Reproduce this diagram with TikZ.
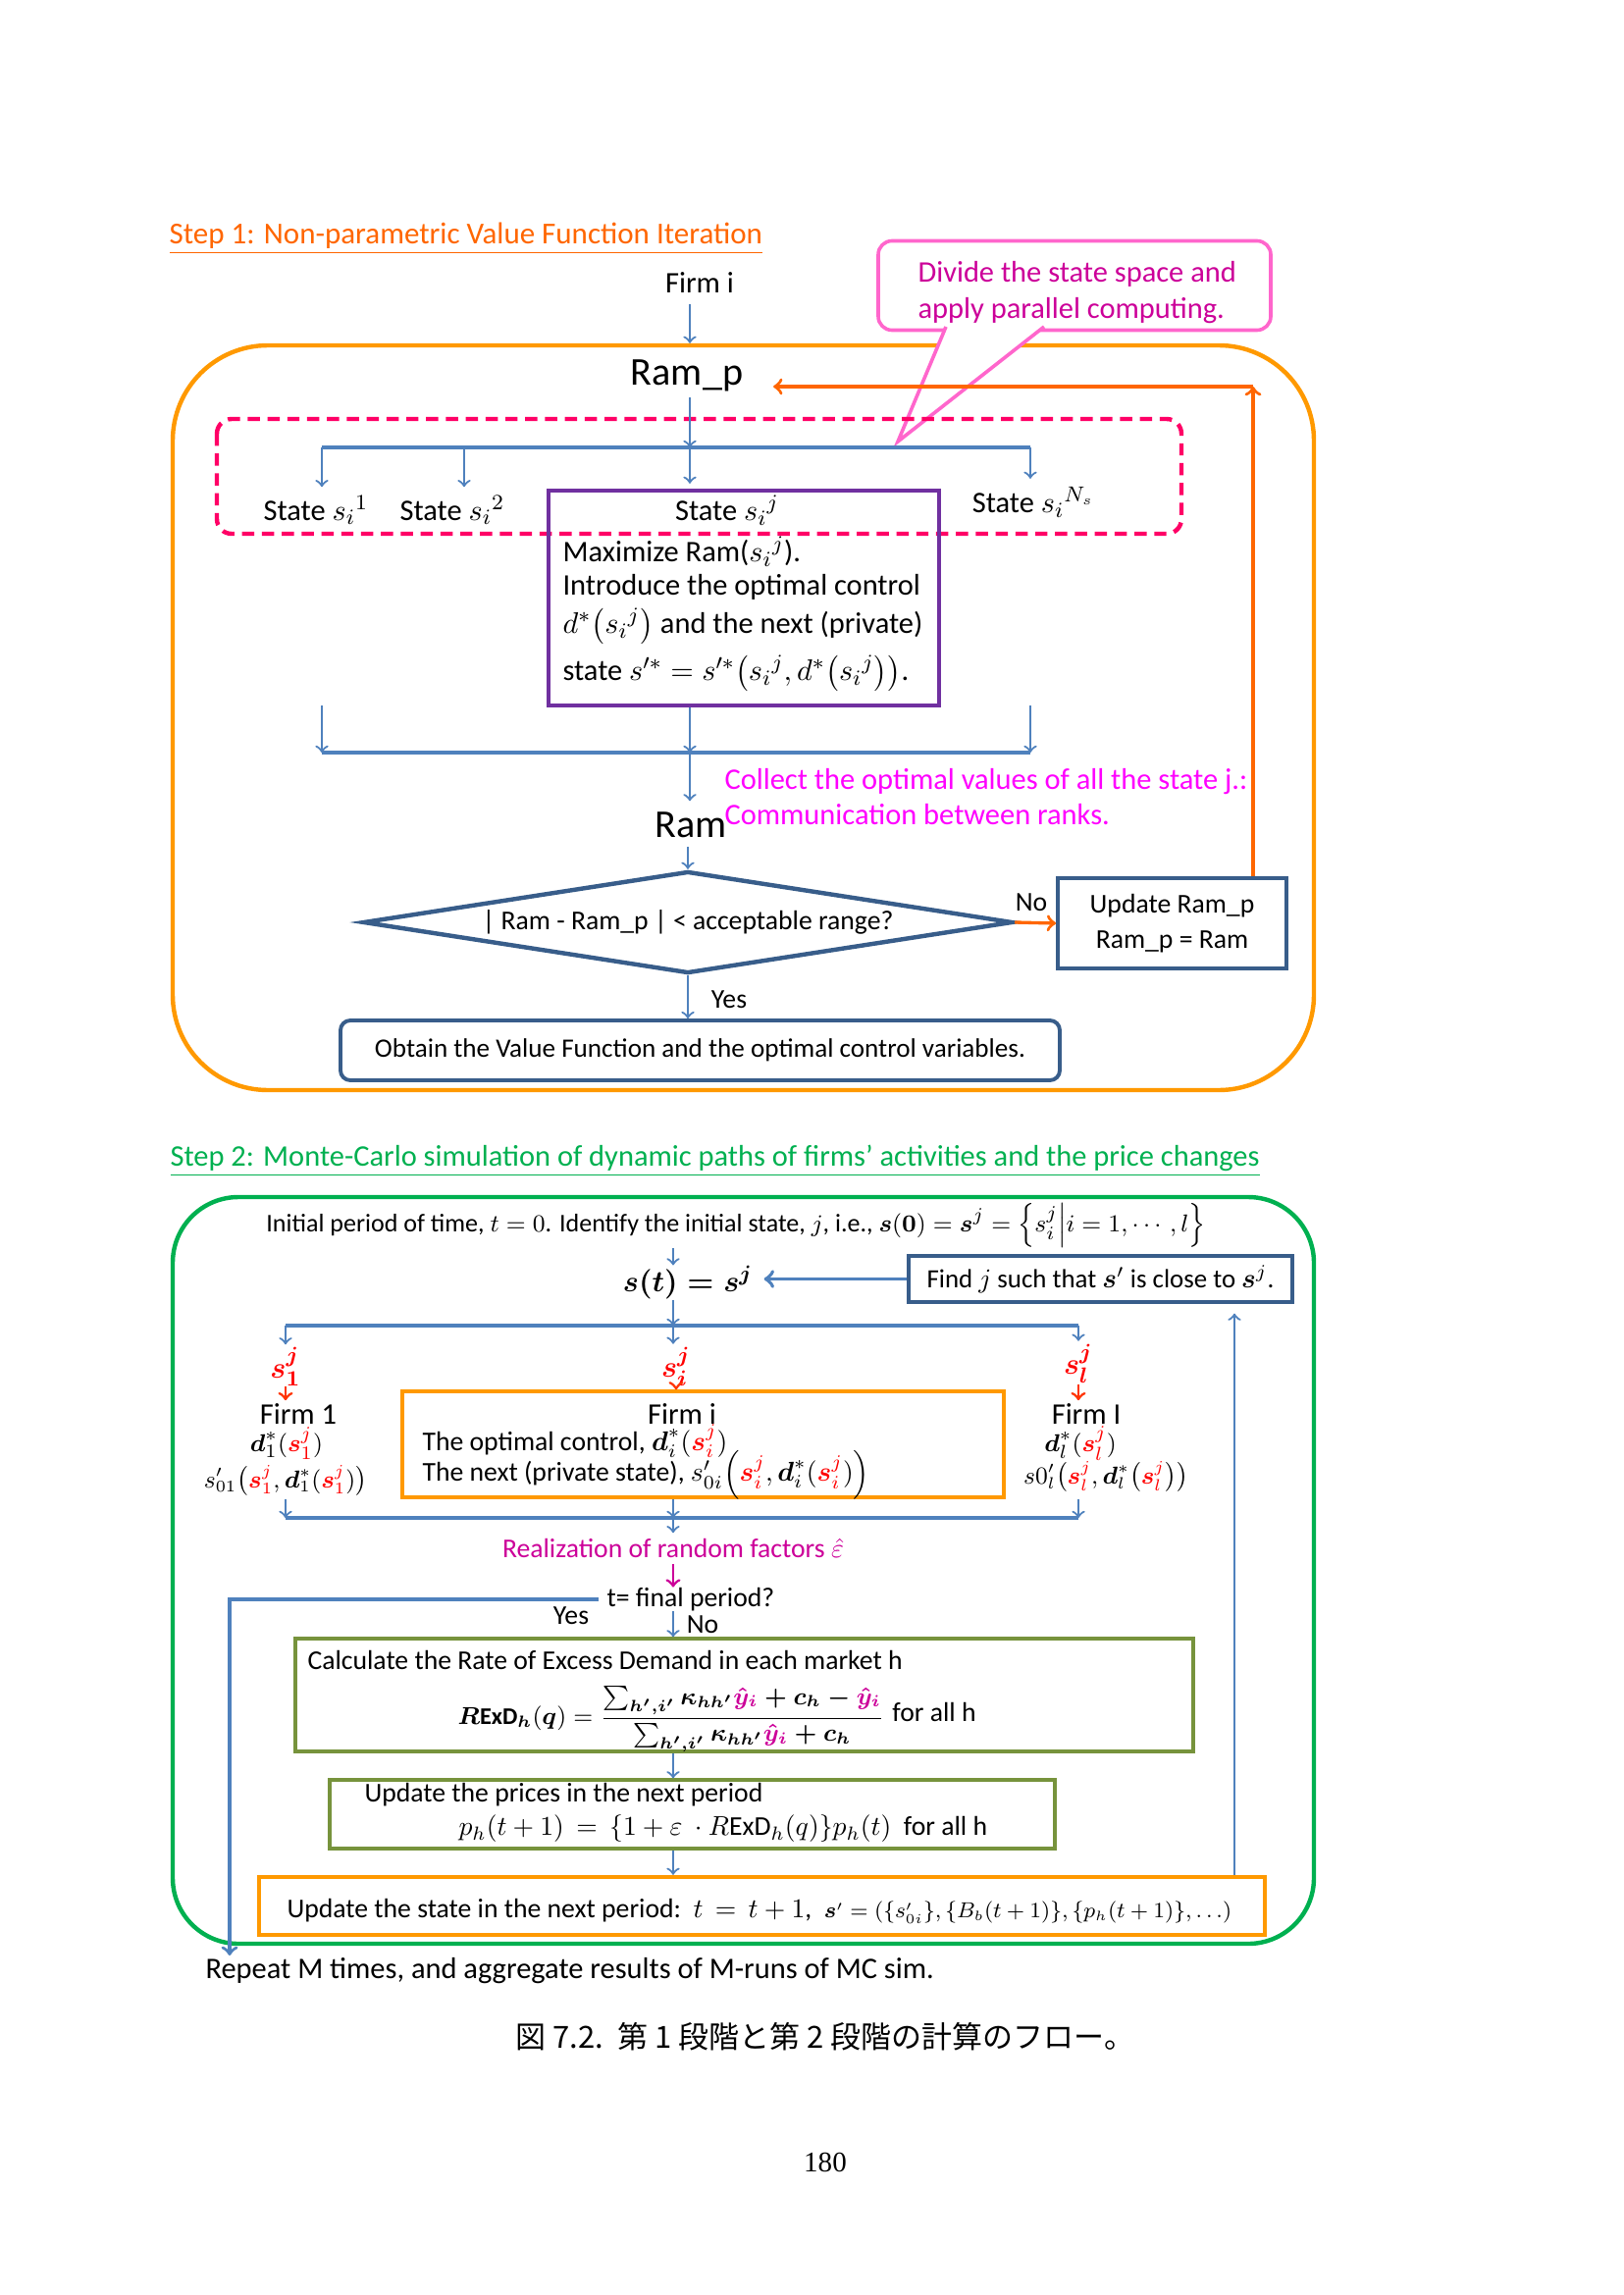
\documentclass[tikz,border=0pt]{standalone}
\usepackage{amsmath}
\usepackage{fontspec}
\setmainfont{Carlito}
\newfontfamily\jpfont{Noto Sans CJK JP}
\newfontfamily\pagefont{Liberation Serif}
\usetikzlibrary{shapes.geometric}
\newdimen\px \px=0.12697mm
\definecolor{ttlorange}{HTML}{FF6600} \definecolor{amber}{HTML}{FF9900} \definecolor{callpink}{HTML}{FF66CC}
\definecolor{calltext}{HTML}{CC0099} \definecolor{dashpink}{HTML}{FF0066} \definecolor{blu}{HTML}{4F81BD}
\definecolor{darkblu}{HTML}{385D8A} \definecolor{purp}{HTML}{7030A0} \definecolor{collmag}{HTML}{FF00FF}
\definecolor{grn}{HTML}{00B050} \definecolor{olive}{HTML}{77933C} \definecolor{arrred}{HTML}{FF3300}

\begin{document}
\begin{tikzpicture}[x=0.12697mm,y=-0.12697mm,every node/.style={inner sep=0pt},
 fs/.style={font=\fontsize{#1}{13.2}\selectfont}, arr/.style={->,blu,line width=0.8pt}, bus/.style={blu,line width=1.3pt},
 redarrow/.style={->,arrred,line width=1pt}, dbox/.style={draw=darkblu,line width=1.4pt}, obox/.style={draw=olive,line width=1.2pt}]
\useasboundingbox (0,0) rectangle (1654,2339);

\node[fs=11.2,text=ttlorange,anchor=west] (title1) at (172,243) {\underline{Step 1: Non-parametric Value Function Iteration}};
\node[fs=11] (firmi) at (713,288) {Firm i};
\node[draw=amber,line width=1.6pt,rounded corners=97\px,minimum width=1163\px,minimum height=759\px] (stepone) at (757.5,731.5) {};
\coordinate (ba) at (328,456); \coordinate (bb) at (473,456); \coordinate (bc) at (703,456); \coordinate (bd) at (1050,456);
\draw[arr,shorten <=4pt] (firmi.south -| bc) -- (stepone.north -| bc);
\node[draw=callpink,fill=white,line width=1.3pt,rounded corners=14\px,minimum width=400\px,minimum height=91\px] (callout) at (1095,291) {};
\node[fs=11,text=calltext,anchor=west,align=left] (calltxt) at (935,298) {Divide the state space and\\apply parallel computing.};
\coordinate (ptip) at (915,450); \coordinate (fb) at (1277,394);
\draw[callpink,line width=1.3pt,fill=white] (964,333) -- (ptip) -- (1064,333);
\node[fs=14.5] (ramp) at (700,383) {Ram\_p};
\draw[dashpink,line width=1.6pt,dash pattern=on 4.5pt off 2.8pt,rounded corners=15\px] (221,427) rectangle (1204,544);
\draw[arr,shorten <=2pt] (ramp.south -| bc) -- (bc); \draw[bus] (ba) -- (bd);
\node[fs=11] (st1) at (322,520) {State $s_i{}^1$}; \node[fs=11] (st2) at (461,520) {State $s_i{}^2$}; \node[fs=11] (stN) at (1053,512) {State $s_i{}^{N_s}$};
\foreach \b/\s in {ba/st1,bb/st2,bd/stN} { \draw[arr,shorten >=3pt] (\b) -- (\b |- \s.north); };
\node[draw=purp,line width=1.2pt,minimum width=398\px,minimum height=219\px] (purp) at (758,609.5) {};
\draw[arr,shorten >=2pt] (bc) -- (bc |- purp.north);
\node[fs=11] (stj) at (741,520) {State $s_i{}^j$};
\node[fs=11,anchor=west] (maxl) at (573,562) {Maximize Ram($s_i{}^j$).};
\node[fs=11,anchor=west] (introl) at (573,598) {Introduce the optimal control};
\node[fs=11,anchor=west] (dstar) at (573,638) {$d^*\!\left(s_i{}^j\right)$ and the next (private)};
\node[fs=11,anchor=west] (nxt) at (573,686) {state $s'^*=s'^*\!\left(s_i{}^j,d^*\!\left(s_i{}^j\right)\right)$.};
\coordinate (ua) at (328,719); \coordinate (ud) at (1050,719); \coordinate (la) at (328,767); \coordinate (lc) at (703,767); \coordinate (ld) at (1050,767);
\draw[arr] (ua) -- (la); \draw[arr] (ud) -- (ld); \draw[arr] (purp.south -| lc) -- (lc); \draw[bus] (la) -- (ld);
\node[fs=11,text=collmag,anchor=west,align=left] (collect) at (738,812) {Collect the optimal values of all the state j.:\\Communication between ranks.};
\node[fs=14.5] (ram) at (704,841) {Ram};
\draw[arr,shorten >=4pt] (lc) -- (lc |- ram.north);
\node[diamond,draw=darkblu,line width=1.6pt,minimum width=662\px,minimum height=104\px] (dia) at (701,940) {};
\node[fs=10] (diatxt) at (dia) {| Ram - Ram\_p | < acceptable range?};
\draw[arr,shorten <=3pt] (ram.south -| dia.north) -- (dia.north);
\node[dbox,fs=10,align=center,minimum width=233\px,minimum height=92\px] (upd) at (1194.5,941) {Update Ram\_p\\Ram\_p = Ram};
\node[fs=10] (no) at (1051,920) {No};
\draw[->,ttlorange,line width=1.2pt] (dia.east) -- (upd.west);
\draw[->,ttlorange,line width=1.2pt] (upd.north -| fb) -- (fb); \draw[->,ttlorange,line width=1.2pt,shorten >=11pt] (fb) -- (ramp.east |- fb);
\node[fs=10] (yes1) at (743,1019) {Yes};
\node[dbox,fs=9.8,rounded corners=10\px,minimum width=733\px,minimum height=61\px] (obt) at (713.5,1070.5) {Obtain the Value Function and the optimal control variables.};
\draw[arr] (dia.south) -- (dia.south |- obt.north);

\node[fs=11,text=grn,anchor=west] (title2) at (173,1183) {\underline{Step 2: Monte-Carlo simulation of dynamic paths of firms’ activities and the price changes}};
\node[draw=grn,line width=1.6pt,rounded corners=67\px,minimum width=1163\px,minimum height=761\px] (steptwo) at (757.5,1600.5) {};
\node[fs=9.4] (init) at (750,1249) {Initial period of time, $t=0$. Identify the initial state, $j$, i.e., $\boldsymbol{s}(\boldsymbol{0})=\boldsymbol{s}^j=\left\{s_i^j\middle|i=1,\cdots,l\right\}$};
\coordinate (spine) at (686,1351);
\node[fs=11.3] (stt) at (701,1307) {$\boldsymbol{s(t)=s^j}$};
\node[dbox,fs=9.7,minimum width=391\px,minimum height=47\px] (find) at (1121.5,1303.5) {Find $j$ such that $\boldsymbol{s}'$ is close to $\boldsymbol{s}^j$.};
\draw[arr] (init.south -| spine) -- (stt.north -| spine); \draw[arr,line width=1.4pt,shorten >=4pt] (find.west) -- (stt.east |- find.west);
\draw[arr] (stt.south -| spine) -- (spine);
\coordinate (ea) at (291,1351); \coordinate (ee) at (1099,1351); \draw[bus] (ea) -- (ee);
\node[fs=11,text=red] (sj1) at (291,1393) {$\boldsymbol{s_1^j}$}; \node[fs=11,text=red] (sji) at (689,1393) {$\boldsymbol{s_i^j}$}; \node[fs=11,text=red] (sjl) at (1099,1390) {$\boldsymbol{s_l^j}$};
\foreach \b/\s in {ea/sj1,spine/sji,ee/sjl} { \draw[arr,shorten >=1pt] (\b) -- (\b |- \s.north); };
\node[draw=amber,line width=1.2pt,minimum width=613\px,minimum height=108\px] (obox) at (716.5,1472) {};
\node[fs=11] (firm1) at (304,1441) {Firm 1}; \node[fs=11] (firmi2) at (695,1441) {Firm i}; \node[fs=11] (firml) at (1107,1441) {Firm I};
\draw[redarrow,shorten >=1pt] (sj1.south) -- (firm1.north -| sj1.south); \draw[redarrow] (sji.south) -- (obox.north -| sji.south); \draw[redarrow,shorten >=1pt] (sjl.south) -- (firml.north -| sjl.south);
\node[fs=9.5] (d1) at (292,1471) {$\boldsymbol{d}_1^*(\textcolor{red}{\boldsymbol{s}_1^j})$};
\node[fs=9.2] (s01) at (291,1509) {$s'_{01}\!\left(\textcolor{red}{\boldsymbol{s}_1^j},\boldsymbol{d}_1^*(\textcolor{red}{\boldsymbol{s}_1^j})\right)$};
\node[fs=10,anchor=west] (ctrl) at (430,1469) {The optimal control, $\boldsymbol{d}_i^*(\textcolor{red}{\boldsymbol{s}_i^j})$};
\node[fs=10,anchor=west] (nextst) at (430,1503) {The next (private state), $s'_{0i}\!\left(\textcolor{red}{\boldsymbol{s}_i^j},\boldsymbol{d}_i^*(\textcolor{red}{\boldsymbol{s}_i^j})\right)$};
\node[fs=9.5] (dl) at (1101,1471) {$\boldsymbol{d}_l^*(\textcolor{red}{\boldsymbol{s}_l^j})$};
\node[fs=9.2] (s0l) at (1127,1505) {$s0'_l\!\left(\textcolor{red}{\boldsymbol{s}_l^j},\boldsymbol{d}_l^*\!\left(\textcolor{red}{\boldsymbol{s}_l^j}\right)\right)$};
\coordinate (fa) at (291,1528); \coordinate (fe) at (1099,1528); \coordinate (ga) at (291,1547); \coordinate (gc) at (686,1547); \coordinate (ge) at (1099,1547);
\draw[arr] (fa) -- (ga); \draw[arr] (obox.south -| gc) -- (gc); \draw[arr] (fe) -- (ge); \draw[bus] (ga) -- (ge);
\node[fs=10,text=calltext] (real) at (686,1578) {Realization of random factors $\hat{\varepsilon}$};
\draw[arr,shorten >=2pt] (gc) -- (gc |- real.north);
\node[fs=10] (fin) at (704,1630) {t= final period?};
\draw[->,calltext,line width=1pt,shorten <=2pt] (real.south) -- (real.south |- fin.north);
\coordinate (yesend) at (234,1993); \draw[arr,line width=1.2pt,shorten <=3pt] (fin.west) -| (yesend);
\node[fs=10] (yes2) at (582,1647) {Yes}; \node[fs=10] (no2) at (716,1656) {No};
\node[obox,minimum width=915\px,minimum height=115\px] (calc) at (758.5,1727.5) {};
\draw[arr] (fin.south -| spine) -- (calc.north -| spine);
\node[fs=10,anchor=west] (calctxt) at (313,1692) {Calculate the Rate of Excess Demand in each market h};
\node[fs=8.8] (rexd) at (684,1752) {$\boldsymbol{R}\mathbf{ExD}_{\boldsymbol{h}}(\boldsymbol{q})=\dfrac{\textstyle\boldsymbol{\sum_{h',i'}\kappa_{hh'}}\textcolor{calltext}{\boldsymbol{\hat{y}_i}}\boldsymbol{{}+c_h-{}}\textcolor{calltext}{\boldsymbol{\hat{y}_i}}}{\textstyle\boldsymbol{\sum_{h',i'}\kappa_{hh'}}\textcolor{calltext}{\boldsymbol{\hat{y}_i}}\boldsymbol{{}+c_h}}$};
\node[fs=10] (forall1) at (952,1745) {for all h};
\node[obox,minimum width=739\px,minimum height=70\px] (upd2) at (705.5,1849) {};
\draw[arr] (calc.south -| spine) -- (upd2.north -| spine);
\node[fs=10,anchor=west] (updtxt) at (371,1829) {Update the prices in the next period};
\node[fs=10,anchor=west] (price) at (467,1864) {$p_h(t+1)\,=\,\{1+\varepsilon\ \cdot R\mathrm{ExD}_h(q)\}p_h(t)$\ \ for all h};
\node[draw=amber,line width=1.6pt,minimum width=1025\px,minimum height=59\px] (ust) at (776.5,1942.5) {};
\draw[arr] (upd2.south -| spine) -- (ust.north -| spine);
\node[fs=10,anchor=west] (usttxt) at (292,1948) {Update the state in the next period:\ \ $t\,=\,t+1$,\ \ {\fontsize{7.8}{10}\selectfont$\boldsymbol{s}'=(\{s'_{0i}\},\{B_b(t+1)\},\{p_h(t+1)\},\ldots)$}};
\coordinate (upx) at (1258,1913); \draw[arr,shorten >=3.5pt] (ust.north -| upx) -- (find.south -| upx);
\node[fs=11,anchor=west] (rep) at (209,2009) {Repeat M times, and aggregate results of M-runs of MC sim.};
\node[font=\jpfont\fontsize{11.2}{13}\selectfont] (cap) at (841,2076) {図 7.2.\ \ 第 1 段階と第 2 段階の計算のフロー。};
\node[font=\pagefont\fontsize{10.5}{13}\selectfont] (pg) at (841,2204) {180};
\end{tikzpicture}
\end{document}
